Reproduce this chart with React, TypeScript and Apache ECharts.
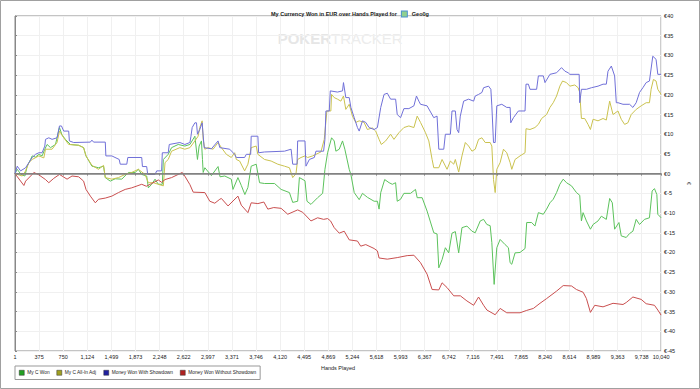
import React, { useEffect, useRef } from "react";
import * as echarts from "echarts";

const FONT = '"Liberation Sans", Arial, Helvetica, sans-serif';

const seriesNames = [
  "My C Won",
  "My C All-In Adj",
  "Money Won With Showdown",
  "Money Won Without Showdown",
];
const lineColors = ["#5cc25c", "#cac24f", "#7070d8", "#c94f4f"];
const legendColors = ["#22a022", "#a0a020", "#2020a0", "#b02020"];

const handsMax = 10040;
const handsStep = 374.5;
const yMin = -45;
const yMax = 40;
const yStep = 5;

// [hand, EUR]
const myCWon: [number, number][] = [
  [1, 0], [36, 1.1], [93, -0.2], [155, -0.6], [190, 1.9], [243, 3.6], [268, 4.5], [320, 4.2], [371, 4.9], [422, 4.5],
  [464, 6.2], [500, 7.4], [553, 6.6], [630, 7.4], [692, 11.7], [732, 9.8], [784, 8.7], [862, 7.4], [990, 7.2], [1067, 6.6],
  [1104, 4.5], [1196, 1.9], [1299, 1.5], [1377, 1.9], [1404, -1], [1481, -1.9], [1558, -1.3], [1660, -1.4], [1764, 0.3], [1868, 0.3],
  [1918, 1.1], [1970, -0.2], [2047, -0.6], [2073, -3.6], [2125, -2.7], [2177, -1.4], [2228, -2.7], [2290, -2.7], [2306, 3.6], [2382, 4.9],
  [2434, 6.6], [2537, 7.4], [2640, 7], [2719, 7.4], [2796, 9.5], [2836, 3.6], [2862, 7], [2898, 8.3], [2914, 3.6], [2925, 0.3],
  [2951, 1.5], [3053, -0.5], [3156, 1.8], [3187, -0.8], [3260, -0.6], [3362, -1.4], [3388, -4], [3465, -1], [3517, -3], [3573, -5.3],
  [3620, -3.5], [3671, 1.9], [3749, 2.4], [3801, -2.3], [3878, -2.5], [4034, -2.5], [4136, -4], [4265, -4.8], [4316, -7.3], [4393, -7],
  [4420, -1], [4507, -1.8], [4538, -7], [4600, -7.8], [4703, -6.1], [4781, -5], [4817, 1.1], [4858, 5.3], [4920, 9.1], [4961, 8.3],
  [4987, 5.7], [5039, 6.2], [5090, 8.3], [5126, 6.2], [5194, 1.1], [5220, -0.2], [5272, -4.8], [5349, -6.6], [5400, -5], [5476, -6],
  [5581, -7], [5632, -7], [5658, -9], [5684, -4.8], [5745, -1.5], [5814, -2.3], [5864, -2.7], [5915, -2.3], [5940, -7], [5992, -6.5],
  [6044, -5], [6147, -5], [6224, -4], [6250, -6.1], [6327, -6.1], [6404, -9.5], [6508, -15], [6559, -15.3], [6586, -23.9], [6637, -21.8],
  [6688, -18.8], [6740, -20.1], [6791, -15.1], [6843, -14.7], [6895, -20.1], [6946, -13.7], [7023, -13.3], [7101, -14.6], [7152, -15], [7230, -12],
  [7282, -11.6], [7333, -12.9], [7384, -13.2], [7410, -17.5], [7446, -28.1], [7487, -18.8], [7539, -16.7], [7616, -18], [7668, -18.8], [7694, -22.6],
  [7720, -23], [7771, -20.1], [7848, -20], [7926, -19], [7952, -12.4], [8029, -12.4], [8080, -13.3], [8133, -9.9], [8210, -10.3], [8261, -9],
  [8313, -7.4], [8364, -6.5], [8416, -4.8], [8467, -2.7], [8519, -1.4], [8570, -2.3], [8648, -3.1], [8725, -4.8], [8776, -5.5], [8802, -12],
  [8828, -9.9], [8880, -12], [8942, -14.1], [8983, -12.9], [9060, -12], [9112, -10.8], [9189, -11.6], [9241, -6.3], [9282, -7.4], [9318, -14.1],
  [9385, -12.4], [9421, -15.8], [9498, -16.2], [9550, -15.2], [9602, -14.6], [9653, -11.6], [9705, -12.9], [9782, -11.6], [9859, -11.2], [9901, -4.4],
  [9937, -3.8], [9974, -5.3], [9989, -10.3], [10040, -11.2],
];

const myCAllInAdj: [number, number][] = [
  [1, 0], [113, -0.6], [166, 0.7], [217, 2.8], [268, 3.6], [371, 4.5], [449, 4], [475, 6.2], [577, 6.2], [654, 7.9],
  [692, 10.8], [758, 9.1], [835, 7.4], [990, 7.2], [1067, 6.6], [1104, 4.5], [1196, 2.1], [1299, 1.1], [1377, 2.1], [1404, -1],
  [1506, -1.4], [1609, -1], [1713, -0.2], [1815, 0.3], [1918, 1.1], [2021, -0.2], [2073, -2.3], [2150, -2.3], [2228, -2.7], [2306, -3.1],
  [2332, 2.8], [2382, 3.6], [2434, 5.7], [2563, 6.6], [2640, 6.2], [2719, 6.6], [2796, 8.3], [2846, 9.5], [2872, 11.7], [2909, 13.4],
  [2925, 8.7], [2951, 6.2], [3001, 6.6], [3079, 6.2], [3156, 7.9], [3208, 6.6], [3285, 4.9], [3362, 4.1], [3414, 5.3], [3440, 3.6],
  [3491, 3.2], [3569, 0.7], [3620, 2.4], [3671, 6.6], [3749, 7], [3775, 4.9], [3878, 3.6], [3981, 3.2], [4084, 2.4], [4188, 1.9],
  [4265, 1.5], [4316, -1], [4367, 0], [4393, 3.6], [4445, 4.1], [4507, 4.5], [4548, 4.1], [4626, 4.5], [4677, 4.9], [4754, 5.5],
  [4806, 8.7], [4847, 15.9], [4909, 15.9], [4920, 20.1], [4961, 19.3], [5012, 18.9], [5064, 18.4], [5105, 19.7], [5141, 16.3], [5194, 17.6],
  [5244, 14.6], [5296, 13], [5349, 13.4], [5425, 13], [5476, 11.2], [5554, 11.6], [5605, 10.8], [5658, 8.7], [5693, 7.4], [5760, 8.3],
  [5837, 10], [5889, 8.7], [5967, 10.4], [6044, 11.7], [6121, 12.1], [6199, 11.7], [6250, 14.6], [6302, 13], [6379, 10.4], [6431, 8.3],
  [6482, 3.6], [6508, 1.5], [6586, 1.5], [6637, 3.6], [6714, 1.1], [6766, 3.2], [6818, 2.4], [6843, 3.6], [6895, 0.4], [6946, 4.5],
  [6998, 7.9], [7049, 7], [7101, 5.7], [7152, 6.2], [7204, 8.7], [7256, 9.1], [7307, 7.9], [7384, 7.9], [7410, 7], [7436, -1.5],
  [7462, -4.8], [7487, 1.1], [7539, 2.8], [7591, 6.2], [7642, 5.3], [7694, 2.8], [7720, 1.1], [7771, 3.6], [7848, 4.5], [7926, 5.3],
  [7941, 11.4], [8003, 11.2], [8080, 11.7], [8133, 12.5], [8184, 14], [8261, 15], [8313, 16.8], [8364, 18], [8416, 19.7], [8467, 22.2],
  [8509, 23.5], [8570, 23.1], [8622, 22.2], [8699, 22.5], [8751, 21.8], [8776, 20.6], [8802, 14], [8853, 14], [8905, 12.5], [8942, 11.2],
  [8983, 13.8], [9060, 13.4], [9138, 14], [9189, 13.6], [9241, 18.4], [9293, 15], [9370, 15.9], [9421, 13.8], [9473, 12.5], [9524, 12.9],
  [9576, 15], [9653, 16.3], [9730, 17.2], [9808, 18], [9859, 18], [9885, 21.4], [9921, 23.9], [9962, 23.5], [9989, 21.4], [10040, 20.1],
];

const moneyWithShowdown: [number, number][] = [
  [1, 0], [36, 1.9], [88, 0.7], [166, 1.5], [217, 2.8], [268, 4.1], [320, 4.9], [371, 5.3], [422, 5.3], [464, 7],
  [475, 8.7], [526, 9.1], [577, 8.7], [654, 9.1], [692, 12.1], [723, 12.1], [758, 10.8], [835, 10.8], [846, 8.3], [913, 7.9],
  [1172, 8], [1196, 8.5], [1222, 8], [1404, 8], [1413, 4.5], [1506, 4.5], [1620, 3.6], [1636, 2.4], [1738, 2.4], [1754, 4.1],
  [1970, 4.1], [1981, 1.8], [2047, 1.8], [2063, -0.2], [2177, -0.2], [2203, 0.7], [2279, 0.7], [2290, 5.3], [2382, 5.3], [2398, 7.4],
  [2563, 7.9], [2640, 7.4], [2719, 7.9], [2735, 9.5], [2754, 11.7], [2796, 12.9], [2821, 12.9], [2836, 10], [2872, 11.2], [2909, 12.9],
  [2940, 6.6], [3053, 6.3], [3156, 8.3], [3183, 6.6], [3337, 6.2], [3414, 4.9], [3440, 4.1], [3569, 4.1], [3595, 4.9], [3663, 4.9],
  [3671, 9.5], [3775, 9.5], [3786, 5.3], [3878, 5.5], [4188, 5.7], [4291, 6.2], [4316, 2.4], [4383, 2.4], [4393, 8.3], [4507, 8.3],
  [4522, 1.9], [4575, 3.6], [4652, 4.1], [4677, 5.7], [4796, 5.7], [4817, 8.7], [4832, 15.9], [4884, 15.9], [4900, 21], [5012, 20.7],
  [5090, 21], [5105, 23.1], [5141, 19.3], [5194, 19.3], [5220, 16.8], [5272, 14.2], [5322, 11.7], [5349, 10.8], [5400, 13.4], [5451, 13],
  [5503, 11.7], [5581, 11.2], [5632, 11.7], [5684, 16.8], [5735, 20.1], [5786, 20.4], [5837, 18.9], [5915, 18.9], [5940, 15], [5992, 14.2],
  [6044, 16.5], [6121, 16.5], [6199, 17.2], [6239, 19.7], [6276, 18.4], [6302, 17.6], [6404, 17.2], [6508, 14.2], [6559, 14.6], [6586, 6.2],
  [6663, 6.2], [6688, 10], [6766, 10], [6791, 15.9], [6843, 15.9], [6869, 11.2], [6895, 10.4], [6920, 14.6], [6972, 18.4], [7049, 18.9],
  [7127, 18.4], [7152, 19.7], [7204, 20.1], [7256, 20.6], [7282, 21.8], [7359, 22.2], [7395, 21.4], [7410, 17.2], [7436, 7.9], [7462, 7.9],
  [7487, 17.2], [7565, 17.6], [7642, 16.8], [7694, 16.8], [7704, 12.9], [7746, 14.2], [7823, 15.9], [7926, 15.9], [7941, 22.7], [7978, 22.7],
  [8003, 21.4], [8106, 21.4], [8133, 24.8], [8210, 24.8], [8236, 23.1], [8313, 25.2], [8416, 25.6], [8493, 26.9], [8545, 26], [8596, 25.6],
  [8622, 25.2], [8767, 25.2], [8776, 18], [8802, 21.4], [8880, 21.4], [8957, 21.8], [9060, 22.2], [9138, 22.7], [9189, 22.7], [9215, 26],
  [9267, 27.3], [9318, 24.8], [9344, 18], [9370, 18], [9448, 17.6], [9550, 17.6], [9602, 16.8], [9653, 18], [9705, 20.6], [9757, 21.8],
  [9808, 23.1], [9859, 23.5], [9911, 29.8], [9962, 29], [9989, 25.2], [10040, 25.2],
];

const moneyWithoutShowdown: [number, number][] = [
  [1, 0], [139, -3], [166, -1.9], [268, -0.2], [294, 0.3], [371, -0.3], [475, -1.5], [526, -2.3], [603, -1.2], [692, -0.2],
  [810, -1.4], [887, -0.6], [990, -0.8], [1067, -1.9], [1104, -4], [1172, -5.7], [1249, -7.4], [1299, -6.5], [1404, -6.2], [1506, -5.7],
  [1609, -4.8], [1713, -4], [1815, -3.6], [1970, -2.7], [2042, -3.2], [2125, -2.5], [2228, -1.6], [2279, -2.2], [2332, -1.5], [2434, -1],
  [2537, -0.2], [2600, 0.3], [2646, -0.8], [2719, -2.8], [2770, -4.7], [2951, -4.8], [3028, -7], [3105, -7.5], [3183, -6.5], [3208, -6.3],
  [3311, -8.2], [3465, -5.7], [3517, -8], [3620, -9.9], [3671, -7.4], [3775, -7.6], [3868, -7.2], [3929, -9], [4022, -8.6], [4136, -8.8],
  [4239, -10.3], [4393, -9.2], [4471, -9.8], [4600, -12], [4703, -11.2], [4796, -11.6], [4858, -11.4], [4904, -12], [4961, -13.7], [5039, -15.1],
  [5116, -14.6], [5194, -16.8], [5322, -17.1], [5373, -18.4], [5451, -18], [5581, -19], [5632, -19.6], [5658, -21.4], [5786, -21.7], [5940, -21.3],
  [6095, -20.8], [6199, -20.7], [6302, -22.6], [6404, -25.5], [6482, -29.4], [6586, -29.5], [6637, -27.7], [6714, -28.9], [6818, -31], [6921, -31],
  [7023, -32.3], [7127, -33.4], [7204, -31.3], [7282, -33.4], [7333, -34.6], [7462, -35.8], [7539, -34.2], [7642, -35.3], [7848, -35.3], [7952, -34.7],
  [8056, -34.2], [8158, -32.9], [8261, -31.7], [8416, -29.8], [8519, -28.4], [8648, -28.5], [8725, -29.4], [8829, -30.1], [8880, -31.7], [8942, -35.2],
  [9009, -33.4], [9138, -33.8], [9293, -32.9], [9448, -33.2], [9498, -32.7], [9602, -31.3], [9730, -31.9], [9808, -33], [9937, -33.4], [9989, -34.6],
  [10040, -35.9],
];

const seriesData = [myCWon, myCAllInAdj, moneyWithShowdown, moneyWithoutShowdown];

export default function App() {
  const ref = useRef<HTMLDivElement>(null);

  useEffect(() => {
    if (!ref.current) return;
    const chart = echarts.init(ref.current, undefined, { renderer: "svg" });

    const txt = { fontFamily: FONT, color: "#222" };

    chart.setOption({
      animation: false,
      backgroundColor: "#ffffff",
      textStyle: { fontFamily: FONT },
      title: {
        text: "{t|My Currency Won in EUR over Hands Played for} {i|} {t|Geo0g}",
        left: "center",
        top: 5,
        padding: 0,
        textStyle: {
          rich: {
            t: { ...txt, fontSize: 5.5 },
            i: {
              width: 5,
              height: 5,
              backgroundColor: "#8fd08f",
              borderColor: "#4a90d0",
              borderWidth: 1,
            },
          },
        },
      },
      grid: {
        left: 15,
        right: 35,
        top: 16,
        bottom: 38,
        show: true,
        borderColor: "#888",
        borderWidth: 1,
        backgroundColor: "transparent",
      },
      xAxis: {
        type: "value",
        min: 0,
        max: handsMax - 1,
        interval: handsStep,
        name: "Hands Played",
        nameLocation: "middle",
        nameGap: 8,
        nameTextStyle: { ...txt, fontSize: 5.5 },
        axisLine: { show: true, lineStyle: { color: "#888" } },
        axisTick: { show: true, length: 2, lineStyle: { color: "#888" } },
        axisLabel: {
          ...txt,
          fontSize: 5.5,
          margin: 3,
          formatter: (v: number) => (Math.floor(v) + 1).toLocaleString("en-US"),
        },
        splitLine: { show: true, lineStyle: { color: "#f0f0f0", width: 1 } },
      },
      yAxis: {
        type: "value",
        position: "right",
        min: yMin,
        max: yMax,
        interval: yStep,
        name: "€",
        nameLocation: "middle",
        nameGap: 18,
        nameRotate: -90,
        nameTextStyle: { ...txt, fontSize: 5.5 },
        axisLine: { show: true, lineStyle: { color: "#888" } },
        axisTick: { show: true, length: 2, lineStyle: { color: "#888" } },
        axisLabel: {
          ...txt,
          fontSize: 5.5,
          margin: 3,
          formatter: (v: number) => "€" + v,
        },
        splitLine: { show: true, lineStyle: { color: "#f0f0f0", width: 1 } },
      },
      legend: {
        left: 15,
        top: 366,
        orient: "horizontal",
        padding: [4, 4],
        itemGap: 7,
        itemWidth: 5,
        itemHeight: 5,
        icon: "rect",
        borderColor: "#999",
        borderWidth: 1,
        selectedMode: false,
        textStyle: { ...txt, fontSize: 4.8, padding: [0, 0, 0, -2] },
        data: seriesNames.map((n, i) => ({
          name: n,
          itemStyle: { color: legendColors[i], borderColor: "#333", borderWidth: 0.5 },
        })),
      },
      graphic: [
        {
          type: "rect",
          silent: true,
          z: 100,
          shape: { x: 0.5, y: 0.5, width: 699, height: 388 },
          style: { fill: "none", stroke: "#a0a0a0", lineWidth: 1 },
        },
        {
          type: "text",
          silent: true,
          z: -10,
          x: 331,
          y: 38,
          style: {
            text: "POKER",
            fill: "#e6e6e6",
            font: `bold 15px ${FONT}`,
            align: "right",
            verticalAlign: "middle",
          },
        },
        {
          type: "text",
          silent: true,
          z: -10,
          x: 331,
          y: 38,
          style: {
            text: "TRACKER",
            fill: "#ececec",
            font: `15px ${FONT}`,
            align: "left",
            verticalAlign: "middle",
          },
        },
      ],
      series: seriesNames.map((name, i) => ({
        name,
        type: "line",
        showSymbol: false,
        symbol: "none",
        color: lineColors[i],
        lineStyle: { color: lineColors[i], width: 1 },
        data: seriesData[i].map(([h, v]) => [h - 1, v]),
        markLine:
          i === 0
            ? {
                silent: true,
                symbol: ["none", "none"],
                label: { show: false },
                lineStyle: { color: "#808080", width: 1.5, type: "solid" },
                data: [{ yAxis: 0 }],
              }
            : undefined,
      })),
    });

    return () => chart.dispose();
  }, []);

  return (
    <div
      ref={ref}
      style={{ position: "fixed", left: 0, top: 0, width: 700, height: 389, background: "#fff" }}
    />
  );
}
